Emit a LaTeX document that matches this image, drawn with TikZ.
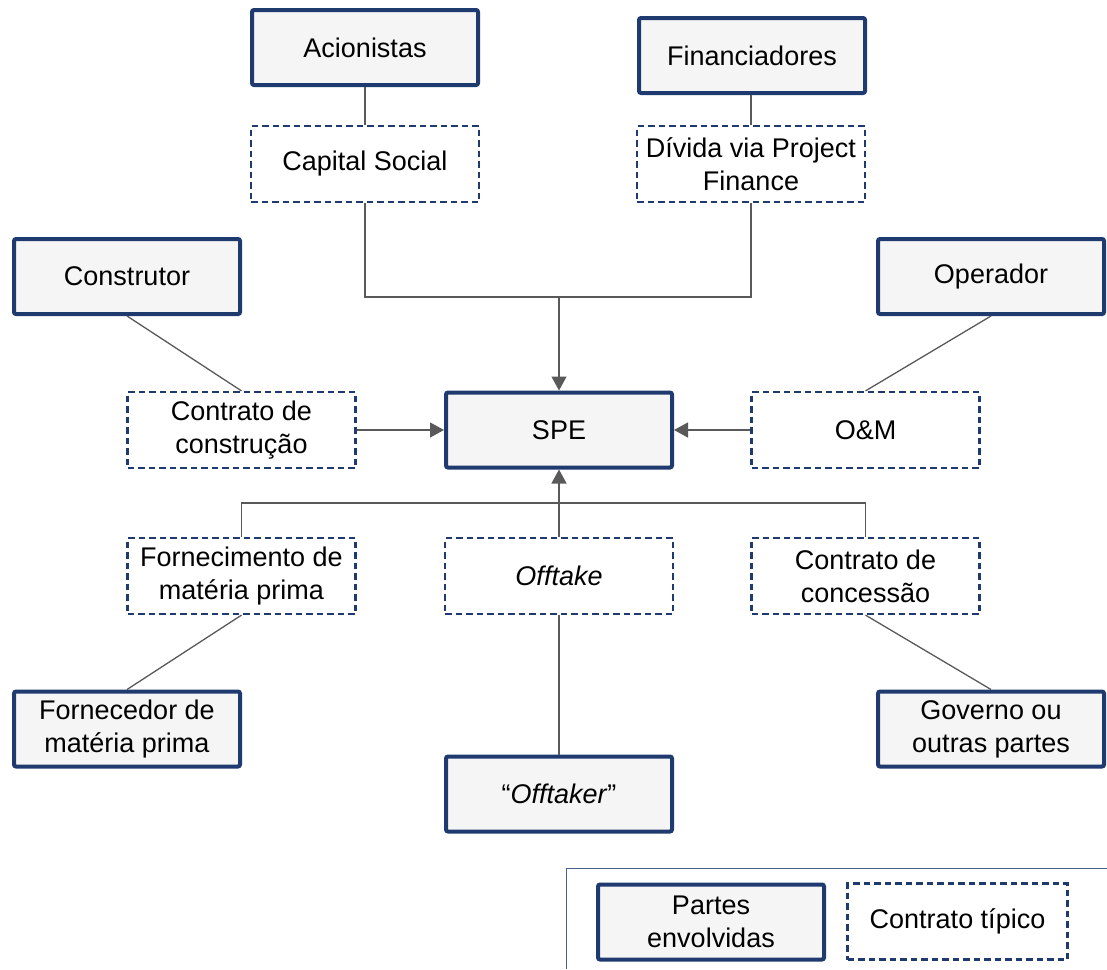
\documentclass[tikz,border=0pt]{standalone}
\usepackage{fontspec}
\setmainfont{Liberation Sans}
\usetikzlibrary{arrows.meta}
\definecolor{navy}{HTML}{1F3A6E}
\definecolor{boxfill}{HTML}{F5F5F5}
\definecolor{conn}{HTML}{595959}
\begin{document}
\begin{tikzpicture}[x=1pt,y=-1pt,
  party/.style={draw=navy,line width=4pt,fill=boxfill,rounded corners=2pt,minimum width=226pt,minimum height=75pt,inner sep=0pt,align=center,font=\fontsize{27}{33}\selectfont},
  contract/.style={draw=navy,line width=2.2pt,dash pattern=on 6.5pt off 4pt,fill=white,minimum width=228pt,minimum height=76pt,inner sep=0pt,align=center,font=\fontsize{27}{33}\selectfont},
  link/.style={draw=conn,line width=1.3pt},
  arr/.style={link,-{Triangle[length=14pt,width=15pt]}}]
\useasboundingbox (0,0) rectangle (1107,969);
% parties
\node[party] (acion) at (365,47.5) {Acionistas};
\node[party] (finan) at (752,55.5) {Financiadores};
\node[party] (constr) at (127,276.5) {Construtor};
\node[party] (oper) at (991,276.5) {Operador};
\node[party] (spe) at (559,430) {SPE};
\node[party] (forn) at (127,729) {Fornecedor de\\matéria prima};
\node[party] (offtr) at (559,794) {“\textit{Offtaker}”};
\node[party] (gov) at (991,729) {Governo ou\\outras partes};
% contracts
\node[contract] (capsoc) at (365,164) {Capital Social};
\node[contract] (divida) at (751,164) {Dívida via Project\\Finance};
\node[contract] (cconstr) at (241.5,430) {Contrato de\\construção};
\node[contract] (om) at (865.5,430) {O\&M};
\node[contract] (fmp) at (241.5,576) {Fornecimento de\\matéria prima};
\node[contract] (offt) at (559,576) {\textit{Offtake}};
\node[contract] (conc) at (865.5,576) {Contrato de\\concessão};
% coordinates
\coordinate (top) at (559,297);
\coordinate (bot) at (559,503);
% top connectors
\draw[link] (acion.south) -- (capsoc.north);
\draw[link] (finan.south -| divida.north) -- (divida.north);
\draw[link] (capsoc.south) |- (top) -| (divida.south);
\draw[arr] (top) -- (spe.north);
% side connectors
\draw[link] (constr.south) -- (cconstr.north);
\draw[arr] (cconstr.east) -- (spe.west);
\draw[link] (oper.south) -- (om.north);
\draw[arr] (om.west) -- (spe.east);
% bottom connectors
\draw[link] (fmp.north) |- (bot) -| (conc.north);
\draw[arr] (offt.north) -- (spe.south);
\draw[link] (fmp.south) -- (forn.north);
\draw[link] (offt.south) -- (offtr.north);
\draw[link] (conc.south) -- (gov.north);
% legend
\coordinate (lgA) at (1107,868);
\coordinate (lgB) at (566,868);
\coordinate (lgC) at (566,969);
\draw[navy!80,line width=1pt] (lgA) -- (lgB) -- (lgC);
\node[party] (lgparty) at (711,922) {Partes\\envolvidas};
\node[contract,minimum width=220pt] (lgcontract) at (957.5,921.5) {Contrato típico};
\end{tikzpicture}
\end{document}
